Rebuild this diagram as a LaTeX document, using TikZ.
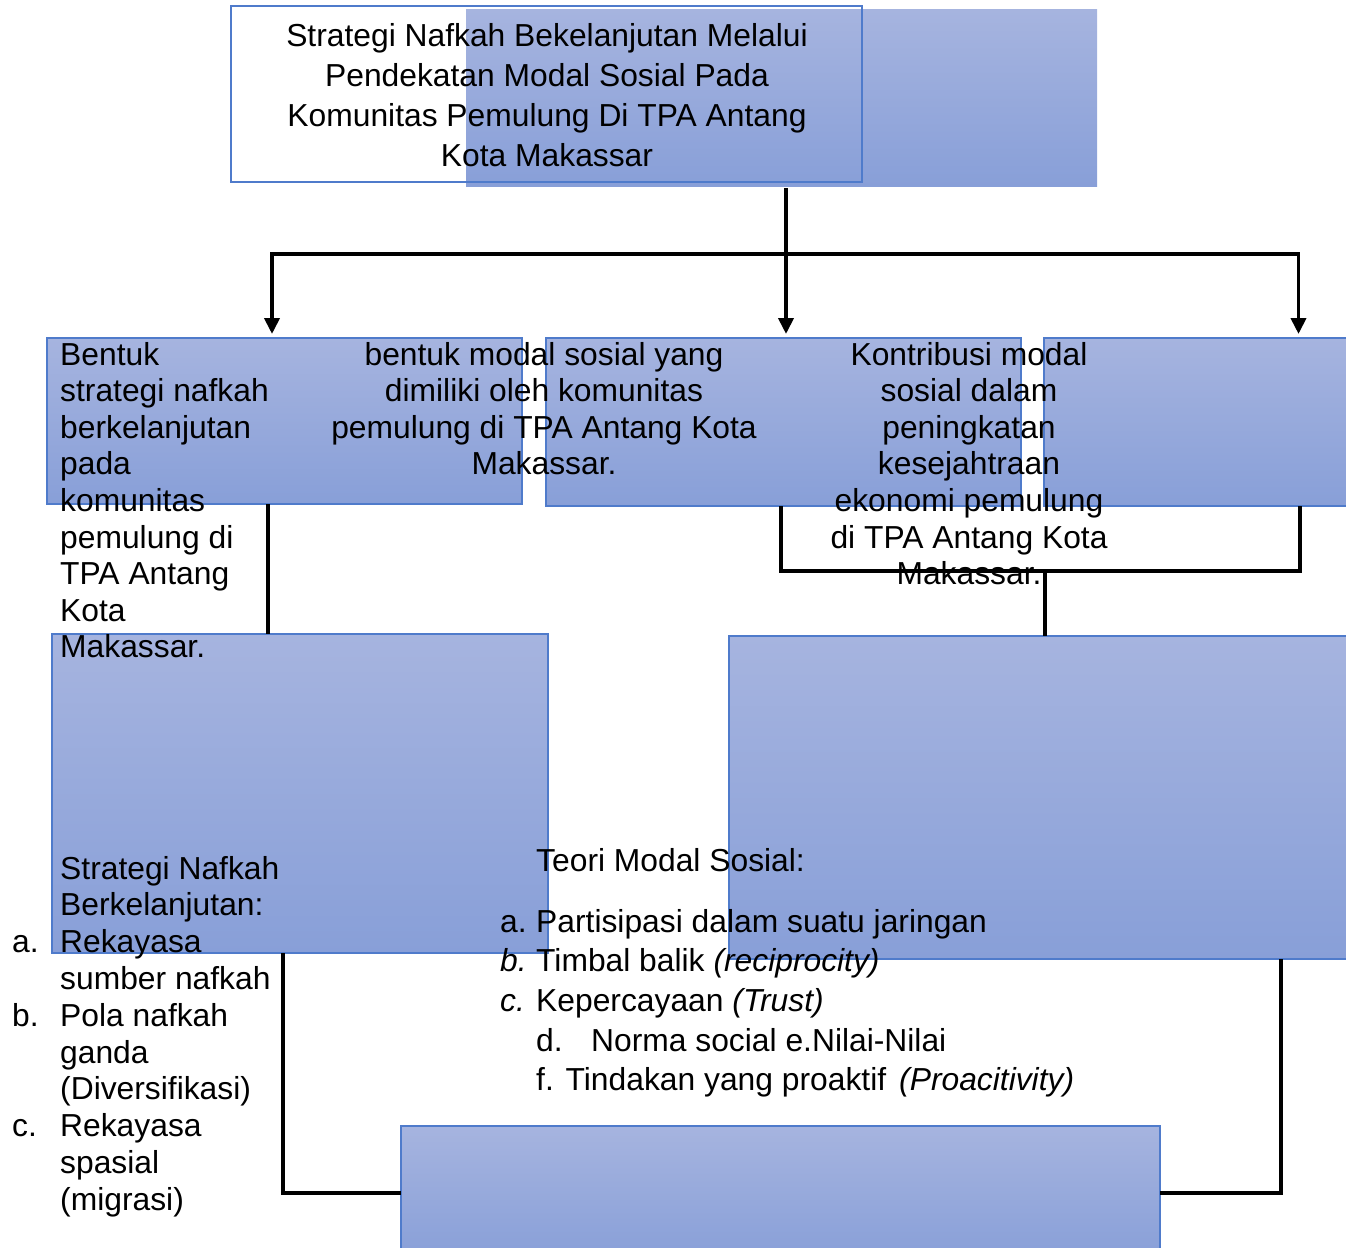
\documentclass[tikz,border=0pt]{standalone}
\usepackage{fontspec}
\setmainfont{Liberation Sans}
\usetikzlibrary{arrows.meta}
\definecolor{gtop}{HTML}{A6B4DF}
\definecolor{gbot}{HTML}{889FD8}
\definecolor{bord}{HTML}{4F7BCB}
\tikzset{
  gbox/.style={top color=gtop, bottom color=gbot, draw=bord, line width=1.1pt, outer sep=0pt, inner sep=0pt},
  gboxnb/.style={top color=gtop, bottom color=gbot, draw=none, outer sep=0pt, inner sep=0pt},
  wbox/.style={fill=white, draw=none, outer sep=0pt, inner sep=0pt},
  txt/.style={inner sep=0pt, font=\fontsize{31.8}{38}\selectfont},
  conn/.style={line width=3.8pt, black},
  arr/.style={conn, -{Triangle[length=16pt,width=15pt]}}
}
\begin{document}
\begin{tikzpicture}[x=1pt,y=-1pt]
\useasboundingbox (0,0) rectangle (1346,1247);
\clip (0,0) rectangle (1346,1247);
% top boxes
\node[wbox, minimum width=631, minimum height=176] (topw) at (546.5,94) {};
\node[gboxnb, minimum width=631, minimum height=176] (topg) at (781.5,98) {};
\draw[bord, line width=1.1pt] (topw.north west) rectangle (topw.south east);
% row 2
\node[gbox, minimum width=475, minimum height=166] (boxA) at (284.5,421) {};
\node[gbox, minimum width=475, minimum height=168] (boxB) at (783.5,422) {};
\node[gbox, minimum width=475, minimum height=168] (boxC) at (1281.5,422) {};
% row 3
\node[gbox, minimum width=496, minimum height=319] (boxD) at (300,793.5) {};
\node[gbox, minimum width=671, minimum height=323] (boxE) at (1064.5,797.5) {};
% bottom
\node[gbox, minimum width=759, minimum height=134] (boxF) at (780.5,1193) {};
% connectors
\coordinate (hl) at (272,254);
\coordinate (hr) at (1298.5,254);
\coordinate (jc) at (1045,571);
\draw[arr] ([xshift=4.5pt,yshift=-2pt]topg.south) -- ([xshift=2.5pt,yshift=4pt]boxB.north);
\draw[conn] ([xshift=-1.9pt]hl) -- ([xshift=1.9pt]hr);
\draw[arr] (hl) -- ([xshift=-12.5pt,yshift=4pt]boxA.north);
\draw[arr] (hr) -- ([xshift=17pt,yshift=4pt]boxC.north);
\draw[conn] ([xshift=-16.5pt]boxA.south) -- ([xshift=-16.5pt]boxA.south |- boxD.north);
\draw[conn] ([xshift=-2.5pt]boxB.south) |- (jc) -| ([xshift=18.5pt]boxC.south);
\draw[conn] (jc) -- (jc |- boxE.north);
\draw[conn] ([xshift=-17pt]boxD.south) |- (boxF.west);
\draw[conn] ([xshift=216.5pt]boxE.south) |- (boxF.east);
% top text
\node[txt, anchor=base] (t1) at (547,47) {Strategi Nafkah Bekelanjutan Melalui};
\node[txt, anchor=base] (t2) at (547,86.7) {Pendekatan Modal Sosial Pada};
\node[txt, anchor=base] (t3) at (547,126.3) {Komunitas Pemulung Di TPA Antang};
\node[txt, anchor=base] (t4) at (547,166) {Kota Makassar};
% box A text
\node[txt, anchor=base west] (a1) at (60,365) {Bentuk};
\node[txt, anchor=base west] (a2) at (60,401.6) {strategi nafkah};
\node[txt, anchor=base west] (a3) at (60,438.2) {berkelanjutan};
\node[txt, anchor=base west] (a4) at (60,474.8) {pada};
\node[txt, anchor=base west] (a5) at (60,511.4) {komunitas};
\node[txt, anchor=base west] (a6) at (60,548) {pemulung di};
\node[txt, anchor=base west] (a7) at (60,584.6) {TPA Antang};
\node[txt, anchor=base west] (a8) at (60,621.2) {Kota};
\node[txt, anchor=base west] (a9) at (60,657.8) {Makassar.};
% box B text
\node[txt, anchor=base] (b1) at (544,365) {bentuk modal sosial yang};
\node[txt, anchor=base] (b2) at (544,401.6) {dimiliki oleh komunitas};
\node[txt, anchor=base] (b3) at (544,438.2) {pemulung di TPA Antang Kota};
\node[txt, anchor=base] (b4) at (544,474.8) {Makassar.};
% box C text
\node[txt, anchor=base] (c1) at (969,365) {Kontribusi modal};
\node[txt, anchor=base] (c2) at (969,401.6) {sosial dalam};
\node[txt, anchor=base] (c3) at (969,438.2) {peningkatan};
\node[txt, anchor=base] (c4) at (969,474.8) {kesejahtraan};
\node[txt, anchor=base] (c5) at (969,511.4) {ekonomi pemulung};
\node[txt, anchor=base] (c6) at (969,548) {di TPA Antang Kota};
\node[txt, anchor=base] (c7) at (969,584.6) {Makassar.};
% box D text
\node[txt, anchor=base west] (d1) at (60,879) {Strategi Nafkah};
\node[txt, anchor=base west] (d2) at (60,915.8) {Berkelanjutan:};
\node[txt, anchor=base west] (d3l) at (12,952.6) {a.};
\node[txt, anchor=base west] (d3) at (60,952.6) {Rekayasa};
\node[txt, anchor=base west] (d4) at (60,989.4) {sumber nafkah};
\node[txt, anchor=base west] (d5l) at (12,1026.2) {b.};
\node[txt, anchor=base west] (d5) at (60,1026.2) {Pola nafkah};
\node[txt, anchor=base west] (d6) at (60,1063) {ganda};
\node[txt, anchor=base west] (d7) at (60,1099.8) {(Diversifikasi)};
\node[txt, anchor=base west] (d8l) at (12,1136.6) {c.};
\node[txt, anchor=base west] (d8) at (60,1136.6) {Rekayasa};
\node[txt, anchor=base west] (d9) at (60,1173.4) {spasial};
\node[txt, anchor=base west] (d10) at (60,1210.2) {(migrasi)};
% box E text
\node[txt, anchor=base west] (e0) at (536,871) {Teori Modal Sosial:};
\node[txt, anchor=base west] (e1l) at (500,932) {a.};
\node[txt, anchor=base west] (e1) at (536,932) {Partisipasi dalam suatu jaringan};
\node[txt, anchor=base west] (e2l) at (500,971) {\textit{b.}};
\node[txt, anchor=base west] (e2) at (536,971) {Timbal balik \textit{(reciprocity)}};
\node[txt, anchor=base west] (e3l) at (500,1011) {\textit{c.}};
\node[txt, anchor=base west] (e3) at (536,1011) {Kepercayaan \textit{(Trust)}};
\node[txt, anchor=base west] (e4l) at (536,1051) {d.};
\node[txt, anchor=base west] (e4) at (591,1051) {Norma social e.Nilai-Nilai};
\node[txt, anchor=base west] (e5) at (536,1090) {f. Tindakan yang proaktif\hspace{13pt}\textit{(Proacitivity)}};
\end{tikzpicture}
\end{document}
